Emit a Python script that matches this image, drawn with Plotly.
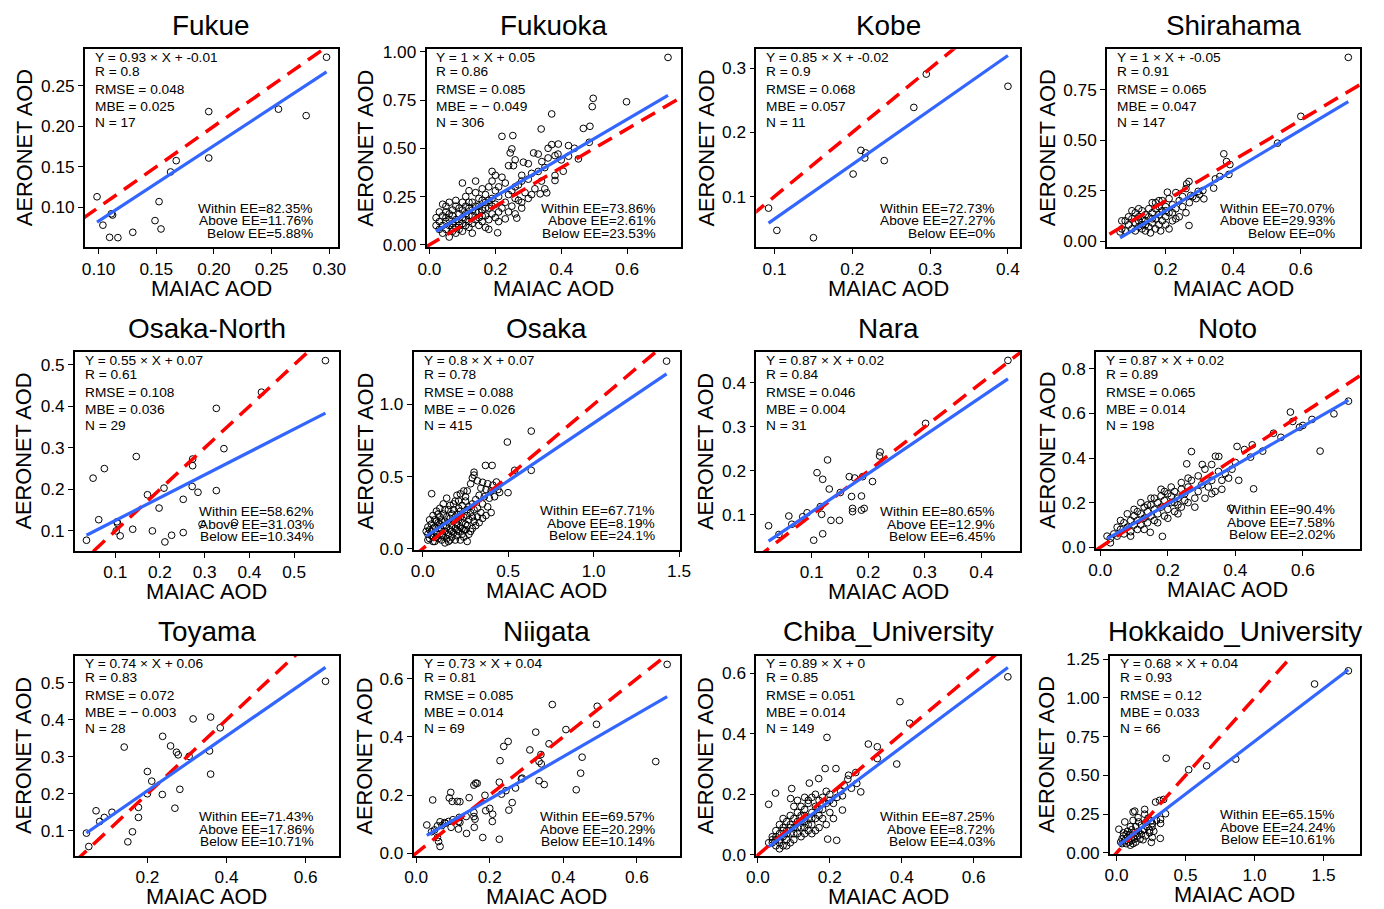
import plotly.graph_objects as go

# ---------------- data ----------------
SITES = ["Fukue", "Fukuoka", "Kobe", "Shirahama", "Osaka-North", "Osaka", "Nara", "Noto",
         "Toyama", "Niigata", "Chiba_University", "Hokkaido_University"]
SLOPE = [0.93, 1, 0.85, 1, 0.55, 0.8, 0.87, 0.87, 0.74, 0.73, 0.89, 0.68]
INTERCEPT = [-0.01, 0.05, -0.02, -0.05, 0.07, 0.07, 0.02, 0.02, 0.06, 0.04, 0, 0.04]
R_VAL = [0.8, 0.86, 0.9, 0.91, 0.61, 0.78, 0.84, 0.89, 0.83, 0.81, 0.85, 0.93]
RMSE = [0.048, 0.085, 0.068, 0.065, 0.108, 0.088, 0.046, 0.065, 0.072, 0.085, 0.051, 0.12]
MBE = [0.025, -0.049, 0.057, 0.047, 0.036, -0.026, 0.004, 0.014, -0.003, 0.014, 0.014, 0.033]
N_OBS = [17, 306, 11, 147, 29, 415, 31, 198, 28, 69, 149, 66]
WITHIN = [82.35, 73.86, 72.73, 70.07, 58.62, 67.71, 80.65, 90.4, 71.43, 69.57, 87.25, 65.15]
ABOVE = [11.76, 2.61, 27.27, 29.93, 31.03, 8.19, 12.9, 7.58, 17.86, 20.29, 8.72, 24.24]
BELOW = [5.88, 23.53, 0, 0, 10.34, 24.1, 6.45, 2.02, 10.71, 10.14, 4.03, 10.61]

X_TICKS = [[0.10, 0.15, 0.20, 0.25, 0.30], [0.0, 0.2, 0.4, 0.6], [0.1, 0.2, 0.3, 0.4], [0.2, 0.4, 0.6],
           [0.1, 0.2, 0.3, 0.4, 0.5], [0.0, 0.5, 1.0, 1.5], [0.1, 0.2, 0.3, 0.4], [0.0, 0.2, 0.4, 0.6],
           [0.2, 0.4, 0.6], [0.0, 0.2, 0.4, 0.6], [0.0, 0.2, 0.4, 0.6], [0.0, 0.5, 1.0, 1.5]]
Y_TICKS = [[0.10, 0.15, 0.20, 0.25], [0.00, 0.25, 0.50, 0.75, 1.00], [0.1, 0.2, 0.3], [0.00, 0.25, 0.50, 0.75],
           [0.1, 0.2, 0.3, 0.4, 0.5], [0.0, 0.5, 1.0], [0.1, 0.2, 0.3, 0.4], [0.0, 0.2, 0.4, 0.6, 0.8],
           [0.1, 0.2, 0.3, 0.4, 0.5], [0.0, 0.2, 0.4, 0.6], [0.0, 0.2, 0.4, 0.6], [0.00, 0.25, 0.50, 0.75, 1.00, 1.25]]
X_DEC = [2, 1, 1, 1, 1, 1, 1, 1, 1, 1, 1, 1]
Y_DEC = [2, 2, 1, 2, 1, 1, 1, 1, 1, 1, 1, 2]

# (MAIAC AOD, AERONET AOD) pairs
FUKUE = [(0.0986, 0.113), (0.1037, 0.078), (0.1095, 0.063), (0.1121, 0.0905), (0.111, 0.092), (0.1167, 0.0626),
         (0.1296, 0.0692), (0.1489, 0.0836), (0.1524, 0.107), (0.1541, 0.0733), (0.1624, 0.1436), (0.1673, 0.1575),
         (0.1955, 0.218), (0.1955, 0.1608), (0.256, 0.221), (0.280, 0.213), (0.2977, 0.285)]

FUKUOKA = [(0.724, 0.971), (0.497, 0.759), (0.494, 0.716), (0.598, 0.741), (0.371, 0.678), (0.467, 0.603),
           (0.487, 0.614), (0.339, 0.600), (0.220, 0.562), (0.253, 0.566), (0.485, 0.531), (0.371, 0.519),
           (0.391, 0.522), (0.422, 0.514), (0.422, 0.459), (0.452, 0.445), (0.381, 0.462), (0.316, 0.476),
           (0.245, 0.476), (0.250, 0.497), (0.255, 0.410), (0.285, 0.428), (0.341, 0.431), (0.406, 0.381),
           (0.381, 0.359), (0.381, 0.333), (0.336, 0.264), (0.356, 0.269), (0.265, 0.138), (0.207, 0.062),
           (0.230, 0.134),
           (0.36, 0.45), (0.35, 0.40), (0.33, 0.38), (0.31, 0.37), (0.30, 0.34), (0.28, 0.33), (0.27, 0.31),
           (0.26, 0.30), (0.25, 0.28), (0.24, 0.26), (0.26, 0.24), (0.28, 0.22), (0.30, 0.24), (0.32, 0.29),
           (0.34, 0.33), (0.29, 0.27), (0.27, 0.23), (0.25, 0.20), (0.24, 0.17), (0.26, 0.16), (0.28, 0.19),
           (0.22, 0.35), (0.23, 0.32), (0.21, 0.30), (0.20, 0.36), (0.19, 0.33), (0.24, 0.41), (0.26, 0.44),
           (0.30, 0.42), (0.33, 0.47), (0.36, 0.50), (0.39, 0.47), (0.40, 0.44), (0.44, 0.50), (0.28, 0.36),
           (0.31, 0.26), (0.35, 0.29), (0.23, 0.22), (0.22, 0.19), (0.21, 0.25),
           (0.03, 0.08), (0.03, 0.12), (0.04, 0.10), (0.04, 0.15), (0.04, 0.06), (0.05, 0.08), (0.05, 0.12),
           (0.05, 0.17), (0.05, 0.20), (0.06, 0.04), (0.06, 0.10), (0.06, 0.13), (0.06, 0.22), (0.07, 0.07),
           (0.07, 0.11), (0.07, 0.15), (0.07, 0.18), (0.08, 0.06), (0.08, 0.09), (0.08, 0.13), (0.08, 0.20),
           (0.08, 0.23), (0.09, 0.08), (0.09, 0.12), (0.09, 0.16), (0.09, 0.10), (0.10, 0.07), (0.10, 0.14),
           (0.10, 0.18), (0.10, 0.32), (0.10, 0.22), (0.11, 0.10), (0.11, 0.13), (0.11, 0.16), (0.11, 0.25),
           (0.12, 0.09), (0.12, 0.12), (0.12, 0.19), (0.12, 0.28), (0.13, 0.11), (0.13, 0.15), (0.13, 0.22),
           (0.13, 0.06), (0.14, 0.13), (0.14, 0.17), (0.14, 0.27), (0.14, 0.33), (0.15, 0.10), (0.15, 0.14),
           (0.15, 0.20), (0.15, 0.24), (0.16, 0.12), (0.16, 0.18), (0.16, 0.29), (0.17, 0.15), (0.17, 0.22),
           (0.17, 0.26), (0.17, 0.09), (0.18, 0.13), (0.18, 0.19), (0.18, 0.30), (0.18, 0.08), (0.19, 0.16),
           (0.19, 0.24), (0.19, 0.38), (0.20, 0.14), (0.20, 0.21), (0.20, 0.28), (0.21, 0.17), (0.21, 0.12),
           (0.02, 0.10), (0.02, 0.14), (0.03, 0.17), (0.04, 0.21), (0.05, 0.14), (0.06, 0.16), (0.07, 0.09),
           (0.09, 0.19), (0.10, 0.11), (0.11, 0.20), (0.12, 0.15), (0.13, 0.18), (0.14, 0.20), (0.15, 0.17),
           (0.16, 0.15), (0.16, 0.23), (0.17, 0.19), (0.18, 0.23), (0.19, 0.20), (0.12, 0.22)]

KOBE = [(0.0923, 0.0818), (0.103, 0.047), (0.15, 0.0356), (0.201, 0.135), (0.211, 0.172), (0.217, 0.168),
        (0.216, 0.160), (0.241, 0.156), (0.279, 0.239), (0.295, 0.291), (0.400, 0.272)]

SHIRAHAMA = [(0.7405, 0.91), (0.60, 0.618), (0.531, 0.485), (0.372, 0.432), (0.38, 0.394), (0.39, 0.379),
             (0.387, 0.33), (0.347, 0.308), (0.342, 0.262), (0.269, 0.295), (0.262, 0.283), (0.274, 0.226),
             (0.296, 0.246), (0.313, 0.209), (0.269, 0.077), (0.205, 0.242), (0.36, 0.32), (0.30, 0.23),
             (0.25, 0.22), (0.24, 0.20), (0.23, 0.16), (0.22, 0.18), (0.21, 0.14), (0.20, 0.17), (0.20, 0.12),
             (0.19, 0.15), (0.19, 0.10), (0.18, 0.20), (0.18, 0.13), (0.18, 0.08), (0.17, 0.11), (0.17, 0.16),
             (0.17, 0.06), (0.16, 0.14), (0.16, 0.09), (0.16, 0.19), (0.15, 0.12), (0.15, 0.07), (0.15, 0.16),
             (0.14, 0.10), (0.14, 0.13), (0.14, 0.05), (0.13, 0.15), (0.13, 0.08), (0.13, 0.11), (0.12, 0.12),
             (0.12, 0.07), (0.12, 0.16), (0.11, 0.09), (0.11, 0.14), (0.10, 0.11), (0.10, 0.06), (0.10, 0.15),
             (0.09, 0.08), (0.09, 0.12), (0.08, 0.05), (0.08, 0.10), (0.07, 0.06), (0.07, 0.10), (0.065, 0.045),
             (0.22, 0.10), (0.24, 0.12), (0.26, 0.14), (0.21, 0.21), (0.23, 0.24), (0.19, 0.20), (0.17, 0.19),
             (0.20, 0.08), (0.22, 0.14), (0.25, 0.17), (0.27, 0.19), (0.28, 0.22), (0.26, 0.26), (0.29, 0.21),
             (0.31, 0.25), (0.155, 0.04), (0.185, 0.05), (0.21, 0.06), (0.16, 0.11), (0.14, 0.08), (0.18, 0.17),
             (0.20, 0.15), (0.23, 0.11), (0.11, 0.05), (0.12, 0.10), (0.13, 0.06)]

OSAKA_NORTH = [(0.0356, 0.0775), (0.0504, 0.227), (0.063, 0.127), (0.0756, 0.25), (0.102, 0.100), (0.104, 0.122),
               (0.111, 0.088), (0.139, 0.104), (0.147, 0.279), (0.172, 0.187), (0.183, 0.100), (0.198, 0.155),
               (0.209, 0.203), (0.211, 0.0734), (0.226, 0.0895), (0.252, 0.096), (0.252, 0.176), (0.272, 0.207),
               (0.273, 0.273), (0.273, 0.257), (0.285, 0.193), (0.294, 0.116), (0.326, 0.395), (0.326, 0.197),
               (0.343, 0.298), (0.367, 0.120), (0.427, 0.434), (0.570, 0.510), (0.105, 0.118)]

OSAKA = [(1.427, 1.30), (0.635, 0.815), (0.495, 0.739), (0.635, 0.543), (0.538, 0.543), (0.367, 0.577),
         (0.406, 0.577), (0.499, 0.388), (0.431, 0.462), (0.052, 0.381),
         (0.30, 0.53), (0.30, 0.51), (0.29, 0.49), (0.32, 0.47), (0.35, 0.46), (0.38, 0.45), (0.41, 0.44),
         (0.44, 0.41), (0.40, 0.40), (0.37, 0.41), (0.34, 0.42), (0.28, 0.45), (0.26, 0.40), (0.24, 0.40),
         (0.22, 0.38), (0.20, 0.37), (0.19, 0.33), (0.36, 0.36), (0.39, 0.35), (0.42, 0.36), (0.45, 0.39),
         (0.33, 0.37), (0.31, 0.34), (0.29, 0.31), (0.35, 0.31), (0.38, 0.29), (0.40, 0.25), (0.37, 0.23),
         (0.34, 0.25), (0.32, 0.22), (0.30, 0.27), (0.28, 0.25), (0.26, 0.27), (0.25, 0.33), (0.23, 0.30),
         (0.21, 0.28), (0.27, 0.20), (0.25, 0.17), (0.30, 0.19), (0.33, 0.18), (0.29, 0.14), (0.24, 0.13),
         (0.22, 0.22), (0.20, 0.24), (0.18, 0.27), (0.16, 0.30), (0.14, 0.35), (0.12, 0.31), (0.10, 0.28),
         (0.08, 0.26), (0.06, 0.23), (0.04, 0.20), (0.03, 0.15), (0.03, 0.10), (0.04, 0.07), (0.05, 0.12),
         (0.06, 0.09), (0.07, 0.15), (0.07, 0.05), (0.08, 0.11), (0.08, 0.19), (0.09, 0.07), (0.09, 0.14),
         (0.10, 0.10), (0.10, 0.17), (0.10, 0.22), (0.11, 0.06), (0.11, 0.13), (0.12, 0.09), (0.12, 0.16),
         (0.12, 0.24), (0.13, 0.12), (0.13, 0.19), (0.14, 0.07), (0.14, 0.15), (0.14, 0.22), (0.15, 0.10),
         (0.15, 0.18), (0.15, 0.27), (0.16, 0.13), (0.16, 0.21), (0.17, 0.08), (0.17, 0.16), (0.17, 0.24),
         (0.18, 0.11), (0.18, 0.19), (0.19, 0.14), (0.19, 0.22), (0.20, 0.09), (0.20, 0.17), (0.21, 0.12),
         (0.21, 0.20), (0.22, 0.15), (0.22, 0.26), (0.23, 0.10), (0.23, 0.18), (0.24, 0.22), (0.25, 0.13),
         (0.26, 0.16), (0.26, 0.23), (0.27, 0.29), (0.28, 0.12), (0.29, 0.22), (0.31, 0.16), (0.32, 0.28),
         (0.04, 0.13), (0.05, 0.17), (0.06, 0.05), (0.07, 0.20), (0.08, 0.08), (0.09, 0.24), (0.11, 0.19),
         (0.13, 0.27), (0.16, 0.06), (0.18, 0.31), (0.19, 0.06), (0.21, 0.33), (0.24, 0.08), (0.25, 0.36),
         (0.27, 0.10), (0.02, 0.12), (0.03, 0.06), (0.05, 0.09), (0.06, 0.14), (0.09, 0.18), (0.11, 0.09),
         (0.13, 0.04), (0.15, 0.05), (0.17, 0.12), (0.20, 0.13), (0.22, 0.06), (0.23, 0.14), (0.26, 0.05),
         (0.35, 0.21)]

NARA = [(0.0237, 0.0756), (0.0419, 0.0557), (0.0595, 0.0977), (0.0648, 0.079), (0.0841, 0.096), (0.0918, 0.105),
        (0.1035, 0.0427), (0.1094, 0.196), (0.1153, 0.119), (0.1176, 0.1015), (0.1194, 0.181), (0.1194, 0.0573),
        (0.128, 0.225), (0.131, 0.159), (0.134, 0.0878), (0.149, 0.0878), (0.1505, 0.151), (0.1664, 0.187),
        (0.1705, 0.142), (0.1722, 0.115), (0.1722, 0.1076), (0.176, 0.184), (0.188, 0.143), (0.188, 0.111),
        (0.1928, 0.115), (0.190, 0.187), (0.2075, 0.176), (0.221, 0.243), (0.220, 0.234), (0.3014, 0.308),
        (0.447, 0.451)]

NOTO = [(0.735, 0.655), (0.692, 0.598), (0.651, 0.431), (0.627, 0.573), (0.60, 0.546), (0.59, 0.538),
        (0.57, 0.564), (0.563, 0.606), (0.535, 0.493), (0.513, 0.511), (0.481, 0.431), (0.445, 0.404),
        (0.45, 0.459), (0.454, 0.262), (0.405, 0.452), (0.427, 0.438), (0.351, 0.407), (0.341, 0.408),
        (0.256, 0.374), (0.27, 0.429), (0.302, 0.371), (0.33, 0.371), (0.386, 0.175), (0.184, 0.049),
        (0.148, 0.067),
        (0.40, 0.38), (0.39, 0.35), (0.37, 0.33), (0.36, 0.30), (0.35, 0.34), (0.33, 0.30), (0.32, 0.27),
        (0.34, 0.25), (0.30, 0.28), (0.29, 0.25), (0.28, 0.22), (0.27, 0.30), (0.26, 0.31), (0.26, 0.27),
        (0.25, 0.24), (0.25, 0.21), (0.24, 0.18), (0.24, 0.26), (0.23, 0.22), (0.23, 0.19), (0.22, 0.25),
        (0.22, 0.16), (0.21, 0.20), (0.21, 0.23), (0.20, 0.17), (0.20, 0.24), (0.19, 0.14), (0.19, 0.21),
        (0.18, 0.18), (0.18, 0.23), (0.17, 0.15), (0.17, 0.20), (0.16, 0.12), (0.16, 0.17), (0.16, 0.22),
        (0.15, 0.14), (0.15, 0.19), (0.14, 0.11), (0.14, 0.16), (0.13, 0.13), (0.13, 0.18), (0.12, 0.10),
        (0.12, 0.15), (0.11, 0.12), (0.11, 0.08), (0.10, 0.10), (0.10, 0.14), (0.09, 0.07), (0.09, 0.12),
        (0.08, 0.09), (0.08, 0.15), (0.07, 0.06), (0.07, 0.11), (0.06, 0.08), (0.05, 0.05), (0.05, 0.09),
        (0.04, 0.06), (0.03, 0.04), (0.03, 0.02), (0.02, 0.05), (0.28, 0.18), (0.31, 0.22), (0.33, 0.24),
        (0.36, 0.26), (0.38, 0.31), (0.41, 0.30), (0.29, 0.32), (0.31, 0.35), (0.21, 0.27), (0.18, 0.26),
        (0.15, 0.22), (0.13, 0.08), (0.17, 0.11), (0.20, 0.13), (0.23, 0.15), (0.12, 0.20), (0.10, 0.17),
        (0.22, 0.20), (0.19, 0.25), (0.24, 0.29), (0.14, 0.19), (0.11, 0.16), (0.09, 0.05), (0.06, 0.12),
        (0.26, 0.20)]

TOYAMA = [(0.046, 0.0937), (0.052, 0.0576), (0.0703, 0.154), (0.0795, 0.125), (0.0912, 0.136), (0.1105, 0.150),
          (0.1414, 0.326), (0.1506, 0.0702), (0.1623, 0.0973), (0.1774, 0.1632), (0.1774, 0.136), (0.200, 0.260),
          (0.200, 0.200), (0.211, 0.234), (0.2385, 0.355), (0.2377, 0.198), (0.2586, 0.329), (0.2695, 0.161),
          (0.2736, 0.312), (0.2778, 0.305), (0.282, 0.212), (0.3054, 0.301), (0.3155, 0.402), (0.3598, 0.407),
          (0.357, 0.3155), (0.3598, 0.253), (0.384, 0.378), (0.650, 0.5036)]

NIIGATA = [(0.682, 0.649), (0.651, 0.315), (0.370, 0.511), (0.492, 0.505), (0.490, 0.443), (0.407, 0.425),
           (0.325, 0.416), (0.361, 0.376), (0.250, 0.384), (0.238, 0.367), (0.309, 0.355), (0.339, 0.339),
           (0.334, 0.315), (0.340, 0.307), (0.228, 0.318), (0.451, 0.330), (0.447, 0.275), (0.435, 0.218),
           (0.334, 0.249), (0.348, 0.236), (0.286, 0.255), (0.288, 0.258), (0.270, 0.224), (0.226, 0.244),
           (0.232, 0.203), (0.244, 0.215), (0.261, 0.174), (0.252, 0.148), (0.226, 0.048), (0.181, 0.054),
           (0.162, 0.241), (0.166, 0.240), (0.157, 0.234), (0.144, 0.191), (0.187, 0.199), (0.200, 0.154),
           (0.189, 0.146), (0.208, 0.134), (0.207, 0.109), (0.157, 0.140), (0.157, 0.126), (0.160, 0.117),
           (0.158, 0.089), (0.136, 0.126), (0.137, 0.068), (0.117, 0.123), (0.115, 0.109), (0.119, 0.106),
           (0.115, 0.083), (0.094, 0.209), (0.090, 0.190), (0.098, 0.178), (0.112, 0.178), (0.119, 0.177),
           (0.095, 0.089), (0.088, 0.109), (0.080, 0.103), (0.065, 0.108), (0.058, 0.094), (0.045, 0.183),
           (0.042, 0.074), (0.029, 0.097), (0.058, 0.054), (0.061, 0.040), (0.065, 0.023), (0.077, 0.105),
           (0.070, 0.095), (0.050, 0.080), (0.100, 0.115)]

CHIBA = [(0.695, 0.588), (0.395, 0.506), (0.422, 0.435), (0.307, 0.366), (0.332, 0.357), (0.332, 0.318),
         (0.386, 0.300), (0.192, 0.388), (0.187, 0.285), (0.217, 0.285), (0.094, 0.219), (0.091, 0.186),
         (0.049, 0.204), (0.030, 0.167), (0.194, 0.052), (0.219, 0.048), (0.286, 0.208), (0.272, 0.272),
         (0.275, 0.236), (0.252, 0.263), (0.235, 0.195), (0.235, 0.148), (0.143, 0.237), (0.169, 0.252),
         (0.20, 0.20), (0.19, 0.17), (0.18, 0.19), (0.18, 0.15), (0.17, 0.18), (0.17, 0.13), (0.16, 0.16),
         (0.16, 0.12), (0.15, 0.19), (0.15, 0.14), (0.15, 0.10), (0.14, 0.17), (0.14, 0.12), (0.14, 0.08),
         (0.13, 0.15), (0.13, 0.11), (0.13, 0.19), (0.12, 0.13), (0.12, 0.09), (0.12, 0.16), (0.11, 0.11),
         (0.11, 0.14), (0.11, 0.07), (0.10, 0.12), (0.10, 0.09), (0.10, 0.16), (0.09, 0.10), (0.09, 0.07),
         (0.09, 0.13), (0.08, 0.08), (0.08, 0.11), (0.08, 0.05), (0.07, 0.09), (0.07, 0.06), (0.07, 0.12),
         (0.06, 0.07), (0.06, 0.04), (0.06, 0.10), (0.05, 0.05), (0.05, 0.08), (0.05, 0.03), (0.04, 0.04),
         (0.04, 0.06), (0.03, 0.04), (0.21, 0.17), (0.21, 0.12), (0.20, 0.14), (0.19, 0.10), (0.19, 0.21),
         (0.18, 0.12), (0.17, 0.09), (0.16, 0.20), (0.16, 0.08), (0.15, 0.07), (0.14, 0.18), (0.13, 0.07),
         (0.12, 0.06), (0.11, 0.18), (0.10, 0.05), (0.09, 0.04), (0.08, 0.03), (0.07, 0.03), (0.06, 0.02),
         (0.11, 0.09), (0.12, 0.11), (0.13, 0.13), (0.14, 0.10), (0.15, 0.12), (0.17, 0.15), (0.18, 0.17),
         (0.20, 0.18), (0.22, 0.19), (0.24, 0.23), (0.25, 0.25), (0.26, 0.22), (0.23, 0.21), (0.10, 0.07),
         (0.08, 0.07), (0.06, 0.05), (0.07, 0.08), (0.09, 0.09), (0.05, 0.06), (0.04, 0.05), (0.13, 0.09)]

HOKKAIDO = [(1.68, 1.175), (1.435, 1.09), (0.864, 0.605), (0.653, 0.562), (0.523, 0.537), (0.36, 0.611),
            (0.341, 0.345), (0.312, 0.339), (0.283, 0.328), (0.355, 0.253), (0.319, 0.217), (0.319, 0.19),
            (0.317, 0.094), (0.204, 0.281), (0.132, 0.27), (0.12, 0.264), (0.156, 0.228), (0.204, 0.25),
            (0.228, 0.224), (0.211, 0.196), (0.252, 0.207), (0.257, 0.168), (0.24, 0.147), (0.187, 0.143),
            (0.259, 0.10), (0.252, 0.068), (0.192, 0.085), (0.017, 0.153), (0.06, 0.20),
            (0.03, 0.07), (0.04, 0.09), (0.05, 0.11), (0.06, 0.08), (0.07, 0.12), (0.07, 0.06), (0.08, 0.10),
            (0.08, 0.14), (0.09, 0.07), (0.09, 0.09), (0.10, 0.12), (0.10, 0.05), (0.11, 0.08), (0.11, 0.15),
            (0.12, 0.10), (0.12, 0.06), (0.13, 0.13), (0.13, 0.09), (0.14, 0.17), (0.14, 0.07), (0.15, 0.11),
            (0.16, 0.14), (0.16, 0.20), (0.17, 0.09), (0.18, 0.18), (0.18, 0.12), (0.20, 0.15), (0.21, 0.11),
            (0.22, 0.17), (0.24, 0.13), (0.26, 0.19), (0.27, 0.14), (0.29, 0.21), (0.05, 0.13), (0.04, 0.06),
            (0.10, 0.17), (0.12, 0.21)]

POINTS = [FUKUE, FUKUOKA, KOBE, SHIRAHAMA, OSAKA_NORTH, OSAKA, NARA, NOTO, TOYAMA, NIIGATA, CHIBA, HOKKAIDO]

# ---------------- layout ----------------
# Target positions are given in pixels of the 1384x909 picture.  The page is
# shown with an 8px body margin and the capture is fitted back to 1384x909,
# so picture pixels are mapped back to figure pixels below.
W, H = 1384, 909
PAD = 8
SX = W / (W + 2 * PAD)
SY = H / (H + 2 * PAD)
FS = 1.0 / ((SX + SY) / 2)          # size compensation for the capture scaling

BOX = [(83, 337, 50, 248), (426, 681, 50, 248), (757, 1022, 50, 248), (1109, 1363, 50, 248),
       (73, 338, 353, 552), (413, 680, 353, 551), (757, 1022, 353, 552), (1098, 1363, 353, 550),
       (73, 338, 657, 857), (413, 680, 657, 857), (757, 1022, 657, 857), (1112, 1363, 657, 855)]
X_RANGE = [(0.088, 0.3075), (-0.009, 0.762), (0.0765, 0.4158), (0.026, 0.775),
           (0.0096, 0.60), (-0.054, 1.503), (0.0019, 0.4688), (-0.0128, 0.769),
           (0.0167, 0.6837), (-0.007, 0.7157), (-0.0046, 0.7294), (-0.048, 1.764)]
Y_RANGE = [(0.051, 0.295), (-0.012, 1.014), (0.021, 0.330), (-0.030, 0.951),
           (0.0517, 0.5306), (-0.009, 1.363), (0.0183, 0.470), (-0.0075, 0.875),
           (0.0323, 0.572), (-0.0092, 0.678), (-0.0033, 0.657), (-0.006, 1.271)]
YTITLE_OFF = [61, 62, 50, 60, 52, 49, 51, 49, 51, 49, 51, 63]

FONT = "Liberation Sans, Arial, sans-serif"


def fx(px):
    return (px / SX - PAD) / W


def fy(py):
    return 1 - (py / SY - PAD) / H


def num(v):
    return f"{v:g}"


fig = go.Figure()
annotations = []
layout_axes = {}

for i, site in enumerate(SITES):
    k = i + 1
    xs = "x" if k == 1 else f"x{k}"
    ys = "y" if k == 1 else f"y{k}"
    l, r, t, b = BOX[i]
    px = [p[0] for p in POINTS[i]]
    py = [p[1] for p in POINTS[i]]

    fig.add_trace(go.Scatter(x=px, y=py, mode="markers", xaxis=xs, yaxis=ys, showlegend=False,
                             marker=dict(symbol="circle-open", size=6.6 * FS, color="black",
                                         line=dict(width=1, color="black"))))
    lo = min(X_RANGE[i][0], Y_RANGE[i][0])
    hi = max(X_RANGE[i][1], Y_RANGE[i][1])
    fig.add_trace(go.Scatter(x=[lo, hi], y=[lo, hi], mode="lines", xaxis=xs, yaxis=ys, showlegend=False,
                             line=dict(color="#FF0000", width=3.5, dash="16px,9px")))
    x0, x1 = min(px), max(px)
    fig.add_trace(go.Scatter(x=[x0, x1], y=[SLOPE[i] * x0 + INTERCEPT[i], SLOPE[i] * x1 + INTERCEPT[i]],
                             mode="lines", xaxis=xs, yaxis=ys, showlegend=False,
                             line=dict(color="#3366FF", width=3.2)))

    common = dict(showline=True, mirror=True, linecolor="black", linewidth=1.5, ticks="outside",
                  ticklen=5, tickwidth=1.2, tickcolor="black", showgrid=False, zeroline=False,
                  tickfont=dict(size=17 * FS, color="black", family=FONT))
    layout_axes["xaxis" if k == 1 else f"xaxis{k}"] = dict(
        domain=[fx(l), fx(r)], anchor=ys, range=list(X_RANGE[i]),
        tickvals=X_TICKS[i], ticktext=[f"{v:.{X_DEC[i]}f}" for v in X_TICKS[i]], **common)
    layout_axes["yaxis" if k == 1 else f"yaxis{k}"] = dict(
        domain=[fy(b), fy(t)], anchor=xs, range=list(Y_RANGE[i]),
        tickvals=Y_TICKS[i], ticktext=[f"{v:.{Y_DEC[i]}f}" for v in Y_TICKS[i]], **common)

    # panel title
    annotations.append(dict(text=site, x=fx((l + r) / 2), y=fy(t - 24), xref="paper", yref="paper",
                            showarrow=False, xanchor="center", yanchor="middle",
                            font=dict(size=27.5 * FS, color="black", family=FONT)))
    # axis titles
    annotations.append(dict(text="MAIAC AOD", x=fx((l + r) / 2), y=fy(b + 41), xref="paper", yref="paper",
                            showarrow=False, xanchor="center", yanchor="middle",
                            font=dict(size=21.5 * FS, color="black", family=FONT)))
    annotations.append(dict(text="AERONET AOD", x=fx(l - YTITLE_OFF[i]), y=fy((t + b) / 2), xref="paper",
                            yref="paper", showarrow=False, xanchor="center", yanchor="middle", textangle=-90,
                            font=dict(size=21.5 * FS, color="black", family=FONT)))
    # statistics, top-left
    mbe = f"MBE = − {abs(MBE[i]):g}" if MBE[i] < 0 else f"MBE = {num(MBE[i])}"
    stats = [f"Y = {num(SLOPE[i])} × X + {num(INTERCEPT[i])}", f"R = {num(R_VAL[i])}",
             f"RMSE = {num(RMSE[i])}", mbe, f"N = {N_OBS[i]}"]
    for line, off in zip(stats, [8, 22, 40, 57, 73]):
        annotations.append(dict(text=line, x=fx(l + 9), y=fy(t + off), xref="paper", yref="paper",
                                showarrow=False, xanchor="left", yanchor="middle", borderpad=0,
                                font=dict(size=13.5 * FS, color="black", family=FONT)))
    # EE percentages, bottom-right
    ee = [f"Within EE={num(WITHIN[i])}%", f"Above EE={num(ABOVE[i])}%", f"Below EE={num(BELOW[i])}%"]
    for line, off in zip(ee, [39, 26.5, 14]):
        annotations.append(dict(text=line, x=fx(r - 24), y=fy(b - off), xref="paper", yref="paper",
                                showarrow=False, xanchor="right", yanchor="middle", borderpad=0,
                                font=dict(size=13.5 * FS, color="black", family=FONT)))

fig.update_layout(width=W, height=H, margin=dict(l=0, r=0, t=0, b=0), autosize=False,
                  paper_bgcolor="white", plot_bgcolor="white", showlegend=False,
                  font=dict(family=FONT, color="black"), annotations=annotations, **layout_axes)

fig.write_html("out.html")
